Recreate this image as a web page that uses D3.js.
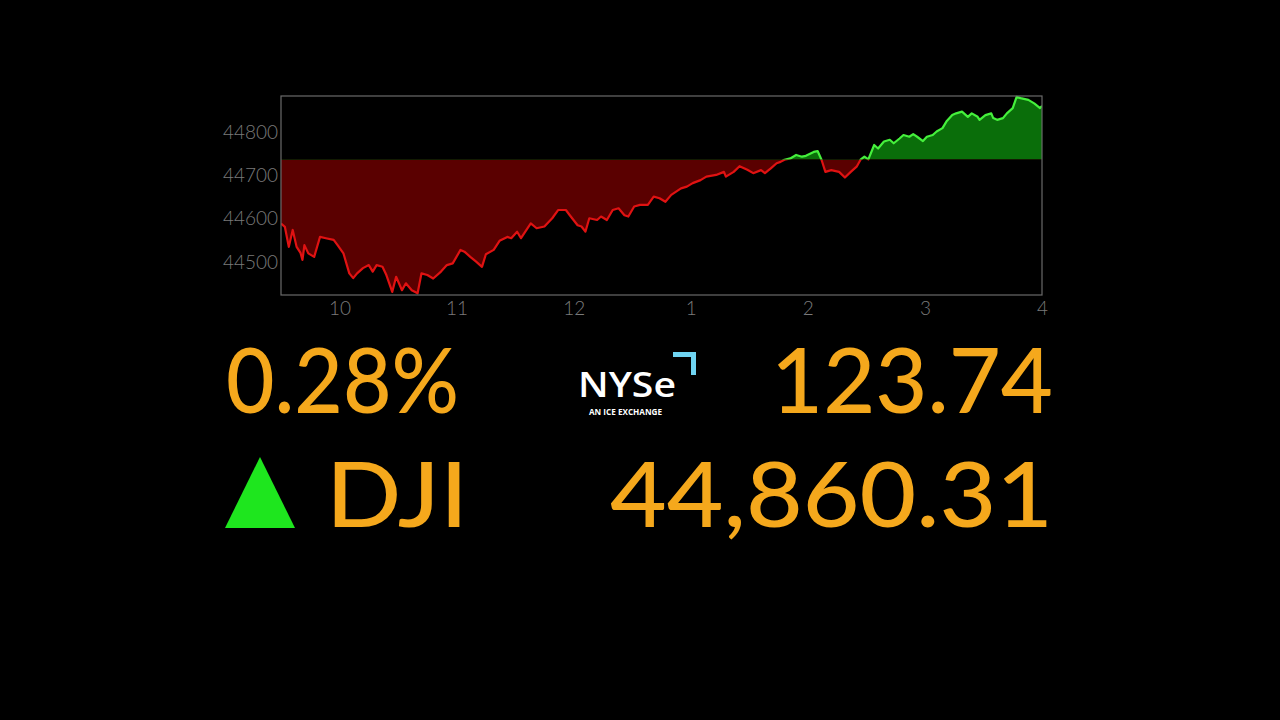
<!DOCTYPE html>
<html>
<head>
<meta charset="utf-8">
<script src="https://cdn.jsdelivr.net/npm/d3@7"></script>
<style>
  html, body { margin: 0; padding: 0; background: #000; }
  svg { display: block; }
</style>
</head>
<body>
<svg id="chart" width="1280" height="720"></svg>
<script>
// ---- Data (minutes after 9:30, DJI index level) ----
const minutes = [0,2,4,6,8,10,11,12,14,17,20,23,27,29,32,35,37,39,42,45,47,49,52,54,57,59,62,64,67,70,72,75,78,82,85,88,92,94,97,100,103,105,109,112,116,118,121,123,128,131,135,139,142,146,148,152,154,156,158,162,164,167,170,173,176,178,181,184,188,191,194,197,200,205,208,211,215,218,223,227,228,232,235,239,242,246,248,251,254,256,258,261,264,267,269,273,275,277,279,282,286,289,292,295,297,299,301,304,306,309,312,314,317,319,322,324,326,329,331,334,336,339,341,344,346,349,352,354,357,358,361,364,365,367,370,372,375,377,379,383,386,389,390];
const values = [44589,44581,44535,44574,44535,44521,44505,44539,44520,44512,44558,44555,44551,44539,44520,44474,44463,44474,44486,44493,44478,44493,44489,44470,44431,44466,44435,44451,44435,44428,44474,44470,44462,44478,44493,44497,44528,44524,44512,44501,44489,44518,44528,44549,44558,44555,44570,44555,44589,44578,44582,44601,44620,44620,44608,44585,44582,44570,44601,44597,44605,44597,44620,44624,44608,44605,44628,44632,44632,44651,44647,44639,44655,44670,44674,44682,44689,44697,44701,44708,44697,44708,44721,44713,44705,44712,44705,44716,44728,44731,44736,44739,44747,44743,44745,44754,44756,44736,44708,44712,44708,44695,44708,44720,44736,44743,44737,44770,44762,44778,44782,44774,44785,44793,44789,44795,44789,44779,44789,44793,44801,44809,44824,44839,44843,44847,44835,44843,44835,44828,44839,44843,44832,44828,44832,44843,44855,44881,44878,44874,44866,44855,44860.31];
const prevClose = 44736.57;

const yTickValues = [44500, 44600, 44700, 44800];
const xTickMinutes = [30, 90, 150, 210, 270, 330, 390];
const xTickLabels = ["10", "11", "12", "1", "2", "3", "4"];

const pctChange = "0.28%";
const pointChange = "123.74";
const symbol = "DJI";
const lastPrice = "44,860.31";

// ---- Layout ----
const svg = d3.select("#chart");
const pL = 281, pR = 1042, pT = 96, pB = 295;

const x = d3.scaleLinear().domain([0, 390]).range([pL, pR]);
const y = d3.scaleLinear().domain([44424, 44883]).range([pB, pT]);
const data = minutes.map((m, i) => ({ m, v: values[i] }));
const yBase = y(prevClose);

const defs = svg.append("defs");
defs.append("clipPath").attr("id", "clipUp")
  .append("rect").attr("x", pL).attr("y", pT - 5).attr("width", pR - pL).attr("height", yBase - pT + 5);
defs.append("clipPath").attr("id", "clipDown")
  .append("rect").attr("x", pL).attr("y", yBase).attr("width", pR - pL).attr("height", pB - yBase + 5);

const area = d3.area().x(d => x(d.m)).y0(yBase).y1(d => y(d.v));
const line = d3.line().x(d => x(d.m)).y(d => y(d.v));

// red (below prev close)
const gDown = svg.append("g").attr("clip-path", "url(#clipDown)");
gDown.append("path").datum(data).attr("d", area).attr("fill", "#5a0000");
gDown.append("path").datum(data).attr("d", line).attr("fill", "none")
  .attr("stroke", "#e01212").attr("stroke-width", 2.2).attr("stroke-linejoin", "round");

// green (above prev close)
const gUp = svg.append("g").attr("clip-path", "url(#clipUp)");
gUp.append("path").datum(data).attr("d", area).attr("fill", "#0a6e0a");
gUp.append("path").datum(data).attr("d", line).attr("fill", "none")
  .attr("stroke", "#45f03c").attr("stroke-width", 2.2).attr("stroke-linejoin", "round");

// frame
svg.append("rect").attr("x", pL).attr("y", pT).attr("width", pR - pL).attr("height", pB - pT)
  .attr("fill", "none").attr("stroke", "#6a6a6a").attr("stroke-width", 1.2);

// axes
const axisFont = "Lato, 'Noto Sans', sans-serif";
const yAxis = svg.append("g").attr("transform", `translate(${pL - 3},0)`)
  .call(d3.axisLeft(y).tickValues(yTickValues).tickSize(0).tickPadding(0).tickFormat(d3.format("d")));
yAxis.select(".domain").remove();
yAxis.selectAll("text").attr("fill", "#7a7a7a").style("font-family", axisFont)
  .style("font-size", "19px").style("font-weight", 300);

const xAxis = svg.append("g").attr("transform", `translate(0,${pB + 2})`)
  .call(d3.axisBottom(x).tickValues(xTickMinutes).tickSize(0).tickPadding(4)
    .tickFormat((d, i) => xTickLabels[i]));
xAxis.select(".domain").remove();
xAxis.selectAll("text").attr("fill", "#7a7a7a").style("font-family", axisFont)
  .style("font-size", "19px").style("font-weight", 300);

// ---- Big figures ----
const bigFont = "Lato, 'Noto Sans', sans-serif";
const orange = "#f5a81c";
function bigText(txt, x0, base, width) {
  svg.append("text").attr("x", x0).attr("y", base).text(txt)
    .attr("fill", orange).style("font-family", bigFont).style("font-size", "90px")
    .style("font-weight", 500)
    .attr("textLength", width).attr("lengthAdjust", "spacingAndGlyphs");
}
bigText(pctChange, 226, 413, 233);
bigText(pointChange, 771, 413, 282);
bigText(symbol, 326, 527, 142);
bigText(lastPrice, 610, 527, 443);

// green up triangle
svg.append("path")
  .attr("d", d3.line()([[225, 528], [295, 528], [260, 457]]) + "Z")
  .attr("fill", "#1ee61e");

// ---- NYSE logo ----
svg.append("text").attr("x", 578).attr("y", 397).text("NYSe")
  .attr("fill", "#ffffff").style("font-family", "'Open Sans', 'Noto Sans', sans-serif")
  .style("font-size", "34px").style("font-weight", 600)
  .attr("textLength", 98).attr("lengthAdjust", "spacingAndGlyphs");
svg.append("path")
  .attr("d", "M673,354.5 L693.5,354.5 L693.5,375")
  .attr("fill", "none").attr("stroke", "#6fd4f2").attr("stroke-width", 5);
svg.append("text").attr("x", 589).attr("y", 415).text("AN ICE EXCHANGE")
  .attr("fill", "#ffffff").style("font-family", "'Open Sans', 'Noto Sans', sans-serif")
  .style("font-size", "8px").style("font-weight", 700)
  .attr("textLength", 73).attr("lengthAdjust", "spacingAndGlyphs");
</script>
</body>
</html>
